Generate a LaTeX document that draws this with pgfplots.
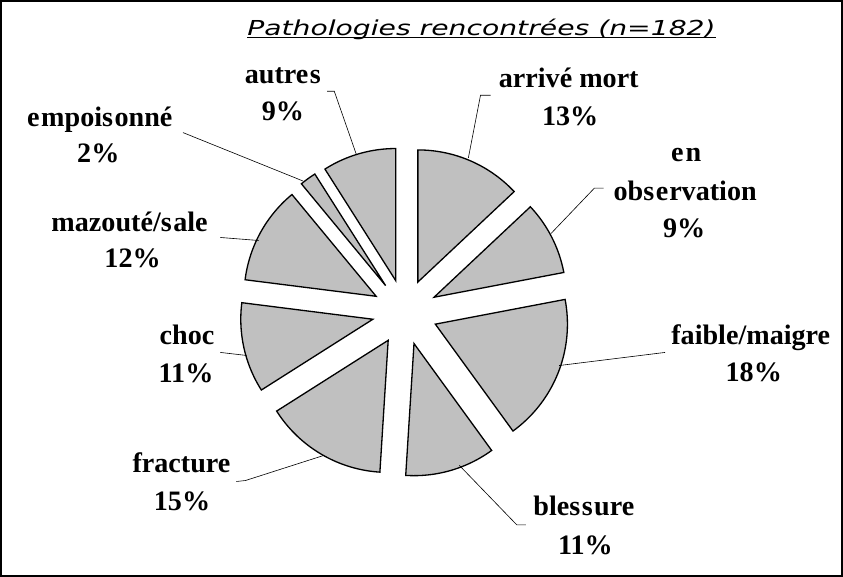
\documentclass[border=0pt]{standalone}
\usepackage{pgfplots}
\pgfplotsset{compat=1.18}
\usepackage{pgfplotstable}
\usepackage{graphicx}
\usepackage{fontspec}
\setmainfont{Liberation Serif}
\newfontfamily\titlefont{DejaVu Sans}
\definecolor{piegray}{HTML}{C0C0C0}
\tikzset{lbl/.style={anchor=base,inner sep=0pt,font=\fontsize{28}{30}\selectfont\bfseries}}
% share of each pathology (percent), clockwise from 12 o'clock
\pgfplotstableread{
name pct
arrive 13
observation 9
faible 18
blessure 11
fracture 15
choc 11
mazoute 12
empoisonne 2
autres 9
}\piedata
\def\cx{405}\def\cy{313}\def\dd{32.5}\def\R{131}
\begin{document}
\begin{tikzpicture}
\begin{axis}[width=843bp,height=579bp,scale only axis,
  xmin=0,xmax=843,ymin=0,ymax=579,y dir=reverse,hide axis,clip=false]
\gdef\cum{90}
\foreach \i in {0,...,8}{
  \pgfplotstablegetelem{\i}{pct}\of\piedata
  \let\p\pgfplotsretval
  \pgfmathsetmacro\aend{\cum-3.6*\p}
  \pgfmathsetmacro\bis{\cum-1.8*\p}
  \pgfmathsetmacro\ax{\cx+\dd*cos(\bis)}
  \pgfmathsetmacro\ay{\cy-\dd*sin(\bis)}
  \edef\tmp{\noexpand\addplot[fill=piegray,draw=black,line width=1.3bp,line join=miter,domain=\aend:\cum,samples=60] ({\ax+\R*cos(x)},{\ay-\R*sin(x)}) -- (axis cs:\ax,\ay) -- cycle;}
  \tmp
  \xdef\cum{\aend}
}
% leader lines
\addplot[black,line width=0.6bp] coordinates {(490,98)(480,98)(468,160)};
\addplot[black,line width=0.6bp] coordinates {(602,190)(593,190)(550,235)};
\addplot[black,line width=0.6bp] coordinates {(663,353)(558,366)};
\addplot[black,line width=0.6bp] coordinates {(525,524)(516,524)(459,465)};
\addplot[black,line width=0.6bp] coordinates {(238,481)(247,480)(325,455)};
\addplot[black,line width=0.6bp] coordinates {(222,353)(248,356)};
\addplot[black,line width=0.6bp] coordinates {(222,239)(260,242)};
\addplot[black,line width=0.6bp] coordinates {(185,135)(304,183)};
\addplot[black,line width=0.6bp] coordinates {(328,94)(335,94)(357,157)};
% labels
\node[lbl] at (axis cs:567.5,90) {arrivé mort};
\node[lbl] at (axis cs:569,128) {13\%};
\node[lbl] at (axis cs:684,164) {e\kern2bp n};
\node[lbl] at (axis cs:683,202) {obs\kern1.5bp e\kern1bp rvation};
\node[lbl] at (axis cs:682,239) {9\%};
\node[lbl] at (axis cs:748,345) {faible/maigre};
\node[lbl] at (axis cs:751,382) {18\%};
\node[lbl] at (axis cs:582.5,515) {bles\kern1.5bp s\kern1.5bp ure};
\node[lbl] at (axis cs:584,553) {11\%};
\node[lbl] at (axis cs:183.5,472) {fracture};
\node[lbl] at (axis cs:184,510) {15\%};
\node[lbl] at (axis cs:189,345) {choc};
\node[lbl] at (axis cs:188,383) {11\%};
\node[lbl] at (axis cs:132,233) {mazouté/s\kern1.5bp ale};
\node[lbl] at (axis cs:135,269) {12\%};
\node[lbl] at (axis cs:102.5,129) {e\kern1.5bp mpois\kern1.5bp onné};
\node[lbl] at (axis cs:101,165) {2\%};
\node[lbl] at (axis cs:284,86) {autre\kern1.5bp s};
\node[lbl] at (axis cs:284,123) {9\%};
% title
\node[anchor=base,inner sep=0pt,font=\titlefont\itshape\fontsize{20.5}{24}\selectfont] (title) at (axis cs:481,38.5) {\scalebox{1.37}[1]{Pathologies rencontrées (n=182)}};
\draw[line width=1.2bp] ([yshift=-2bp]title.base west) -- ([yshift=-2bp]title.base east);
% frame
\draw[line width=2bp] (axis cs:4.5,4.5) rectangle (axis cs:838.5,574.5);
\end{axis}
\end{tikzpicture}
\end{document}
